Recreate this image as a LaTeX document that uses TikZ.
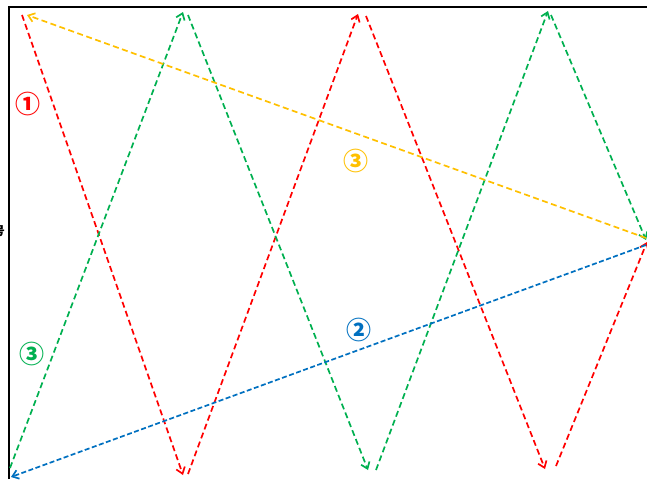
\documentclass[tikz,border=0pt]{standalone}
\usepackage{fontspec}
\newfontfamily\cjk{Noto Sans CJK JP}
\usetikzlibrary{arrows.meta}
\definecolor{cred}{RGB}{255,0,0}
\definecolor{cgreen}{RGB}{0,176,80}
\definecolor{cyellow}{RGB}{255,192,0}
\definecolor{cblue}{RGB}{0,112,192}
\begin{document}
\begin{tikzpicture}[x=1pt,y=-1pt,
  path/.style={line width=1.7pt,dash pattern=on 6pt off 3.5pt,-{Straight Barb[length=6pt,width=9pt]}},
  lbl/.style={font=\cjk\bfseries\fontsize{25}{25}\selectfont,inner sep=0pt}]
\useasboundingbox (0,0) rectangle (647,479);
\draw[line width=2pt] (9,479) -- (9,7) -- (647,7);
\node[font=\cjk\bfseries\fontsize{12}{12}\selectfont,anchor=east,inner sep=0pt] (cut) at (5,231) {号};
% coordinates
\coordinate (r1s) at (22,15);   \coordinate (r1e) at (183,475);
\coordinate (r2s) at (188,474); \coordinate (r2e) at (358,14);
\coordinate (r3s) at (366,16);  \coordinate (r3e) at (545,469);
\coordinate (r4s) at (556,466); \coordinate (r4e) at (647,242);
\coordinate (g1s) at (10,468);  \coordinate (g1e) at (183,12);
\coordinate (g2s) at (188,15);  \coordinate (g2e) at (368,470);
\coordinate (g3s) at (376,470); \coordinate (g3e) at (548,11);
\coordinate (g4s) at (551,15);  \coordinate (g4e) at (646,240);
\coordinate (ys) at (646,238);  \coordinate (ye) at (27,15);
\coordinate (bs) at (646,245);  \coordinate (be) at (11,477);
\draw[path,cred] (r1s) -- (r1e);
\draw[path,cred] (r2s) -- (r2e);
\draw[path,cred] (r3s) -- (r3e);
\draw[path,cred] (r4s) -- (r4e);
\draw[path,cgreen] (g1s) -- (g1e);
\draw[path,cgreen] (g2s) -- (g2e);
\draw[path,cgreen] (g3s) -- (g3e);
\draw[path,cgreen] (g4s) -- (g4e);
\draw[path,cyellow] (ys) -- (ye);
\draw[path,cblue,dash pattern=on 5pt off 2.5pt] (bs) -- (be);
\node[lbl,text=cred] (l1) at (28,104) {①};
\node[lbl,text=cgreen] (l3g) at (32,354) {③};
\node[lbl,text=cyellow] (l3y) at (356,161) {③};
\node[lbl,text=cblue] (l2) at (359,330) {②};
\end{tikzpicture}
\end{document}
